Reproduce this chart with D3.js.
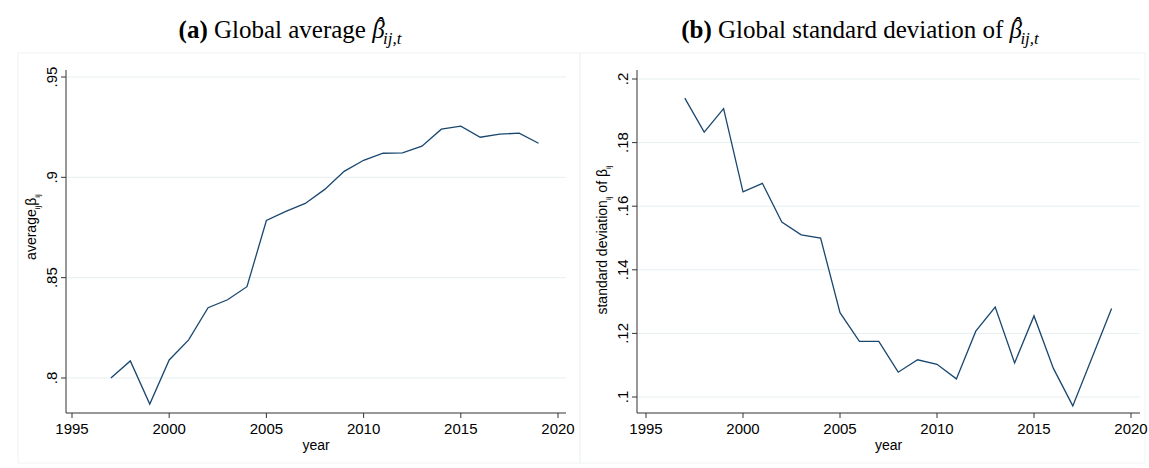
<!DOCTYPE html>
<html><head><meta charset="utf-8">
<script src="https://cdn.jsdelivr.net/npm/d3@7"></script>
<style>body{margin:0;background:#fff}svg{display:block}</style>
</head><body><div class="chart"></div>
<script>
// data
const years = d3.range(1997, 2020);
const avgBeta = [.800,.8085,.787,.809,.819,.835,.839,.8455,.8785,.883,.887,.894,.903,.9085,.912,.9122,.9155,.924,.9255,.920,.9215,.922,.917];
const sdBeta = [.194,.1833,.1907,.1645,.1672,.155,.151,.150,.1265,.1175,.1175,.1078,.1117,.1103,.1057,.1207,.1283,.1107,.1255,.1090,.0972,.1125,.1278];
const xTicks = [1995, 2000, 2005, 2010, 2015, 2020];
const avgTicks = [.8, .85, .9, .95];
const sdTicks = [.1, .12, .14, .16, .18, .2];

const W = 1149, H = 468;
const svg = d3.select('.chart').append('svg').attr('width', W).attr('height', H);

function panel(opt) {
  const g = svg.append('g');
  // outer frame
  g.append('rect').attr('x', opt.fx).attr('y', 53).attr('width', opt.fw).attr('height', 410)
    .attr('fill', '#fff').attr('stroke', '#eef2f4');
  const x = d3.scaleLinear().domain([1995, 2020]).range([opt.x0, opt.x1]);
  const y = d3.scaleLinear().domain(opt.ydom).range([opt.y0, opt.y1]);
  const top = 70, bottom = 413;
  g.selectAll('line.grid').data(opt.yt).enter().append('line')
    .attr('x1', opt.ax).attr('x2', opt.right).attr('y1', d => y(d)).attr('y2', d => y(d))
    .attr('stroke', '#e6eff1').attr('stroke-width', 1);
  g.append('line').attr('x1', opt.ax).attr('x2', opt.ax).attr('y1', top).attr('y2', bottom).attr('stroke', '#333');
  g.append('line').attr('x1', opt.ax).attr('x2', opt.right).attr('y1', bottom).attr('y2', bottom).attr('stroke', '#333');
  g.selectAll('line.yt').data(opt.yt).enter().append('line')
    .attr('x1', opt.ax - 5).attr('x2', opt.ax).attr('y1', d => y(d)).attr('y2', d => y(d)).attr('stroke', '#333');
  g.selectAll('text.yt').data(opt.yt).enter().append('text')
    .attr('transform', d => `translate(${opt.ax - 9},${y(d)}) rotate(-90)`)
    .attr('text-anchor', 'middle').attr('font-family', 'Liberation Sans, Arial').attr('font-size', 15)
    .text(d => String(d).replace(/^0/, ''));
  g.selectAll('line.xt').data(xTicks).enter().append('line')
    .attr('x1', d => x(d)).attr('x2', d => x(d)).attr('y1', bottom).attr('y2', bottom + 5).attr('stroke', '#333');
  g.selectAll('text.xt').data(xTicks).enter().append('text')
    .attr('x', d => x(d)).attr('y', bottom + 21).attr('text-anchor', 'middle')
    .attr('font-family', 'Liberation Sans, Arial').attr('font-size', 15).text(d => d);
  g.append('text').attr('x', (opt.ax + opt.right) / 2).attr('y', 450).attr('text-anchor', 'middle')
    .attr('font-family', 'Liberation Sans, Arial').attr('font-size', 14).text('year');
  const yl = g.append('text').attr('transform', `translate(${opt.ax - 30},${opt.ylab}) rotate(-90)`)
    .attr('text-anchor', 'middle').attr('font-family', 'Liberation Sans, Arial').attr('font-size', 14);
  yl.append('tspan').text(opt.ytxt[0]);
  yl.append('tspan').attr('font-size', 8).attr('dy', 4).text('ij');
  yl.append('tspan').attr('dy', -4).text(opt.ytxt[1]);
  yl.append('tspan').attr('font-size', 8).attr('dy', 4).text('ij');
  g.append('path').datum(opt.vals)
    .attr('d', d3.line().x((d, i) => x(years[i])).y(d => y(d)))
    .attr('fill', 'none').attr('stroke', '#1a476f').attr('stroke-width', 1.3);
  // title
  const t = g.append('text').attr('x', opt.tx).attr('y', 38).attr('text-anchor', 'middle')
    .attr('font-family', 'Liberation Serif, serif').attr('font-size', 25);
  t.append('tspan').attr('font-weight', 'bold').text(opt.tlab + ' ');
  t.append('tspan').text(opt.title + ' ');
  t.append('tspan').attr('font-style', 'italic').text('β');
  t.append('tspan').attr('font-style', 'italic').attr('dx', -10).attr('dy', -3).text('ˆ');
  t.append('tspan').attr('font-style', 'italic').attr('font-size', 17).attr('dx', 0).attr('dy', 9).text('ij,t');
}

panel({fx: 18, fw: 562, ax: 66, right: 566, x0: 72, x1: 558, y0: 378, y1: 77, ydom: [.8, .95],
  yt: avgTicks, vals: avgBeta, ytxt: ['average', 'β'], ylab: 227, tx: 290, tlab: '(a)', title: 'Global average'});
panel({fx: 580, fw: 565, ax: 637, right: 1140, x0: 646, x1: 1131, y0: 397, y1: 79, ydom: [.1, .2],
  yt: sdTicks, vals: sdBeta, ytxt: ['standard deviation', ' of β'], ylab: 240, tx: 860, tlab: '(b)', title: 'Global standard deviation of'});
</script></body></html>
